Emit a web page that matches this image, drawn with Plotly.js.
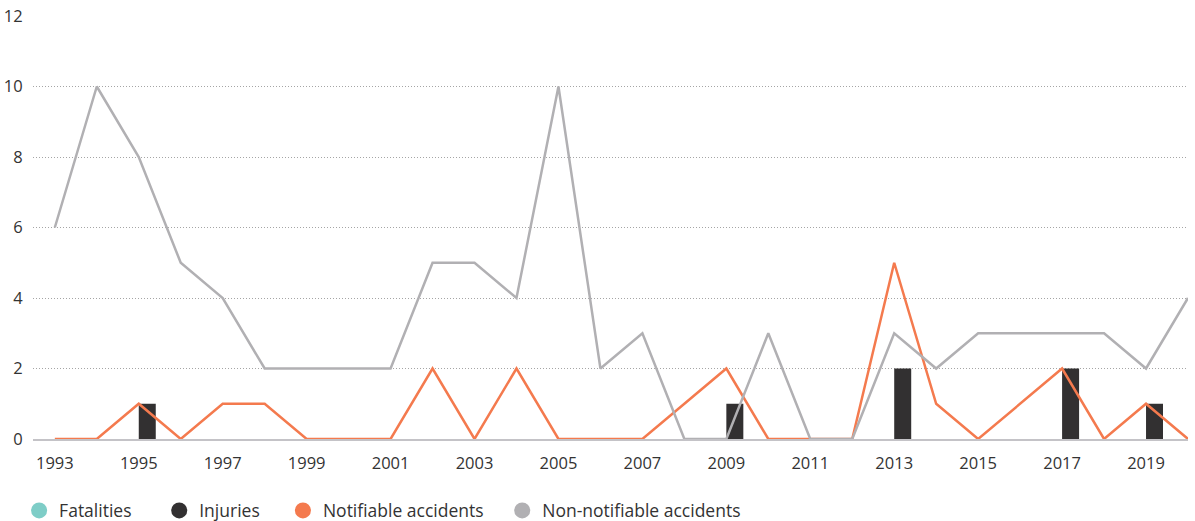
<!DOCTYPE html>
<html>
<head>
<meta charset="utf-8">
<script src="https://cdn.plot.ly/plotly-3.0.1.min.js"></script>
<style>
  html, body { margin: 0; padding: 0; background: #fff; }
  #chart { width: 1195px; height: 521px; }
</style>
</head>
<body>
<div id="chart"></div>
<script>
'use strict';

const years = [
  1993, 1994, 1995, 1996, 1997, 1998, 1999, 2000, 2001, 2002,
  2003, 2004, 2005, 2006, 2007, 2008, 2009, 2010, 2011, 2012,
  2013, 2014, 2015, 2016, 2017, 2018, 2019, 2020
];

const fatalities = [
  0, 0, 0, 0, 0, 0, 0, 0, 0, 0,
  0, 0, 0, 0, 0, 0, 0, 0, 0, 0,
  0, 0, 0, 0, 0, 0, 0, 0
];

const injuries = [
  0, 0, 1, 0, 0, 0, 0, 0, 0, 0,
  0, 0, 0, 0, 0, 0, 1, 0, 0, 0,
  2, 0, 0, 0, 2, 0, 1, 0
];

const notifiable = [
  0, 0, 1, 0, 1, 1, 0, 0, 0, 2,
  0, 2, 0, 0, 0, 1, 2, 0, 0, 0,
  5, 1, 0, 1, 2, 0, 1, 0
];

const nonNotifiable = [
  6, 10, 8, 5, 4, 2, 2, 2, 2, 5,
  5, 4, 10, 2, 3, 0, 0, 3, 0, 0,
  3, 2, 3, 3, 3, 3, 2, 4
];

const xTicks = [1993, 1995, 1997, 1999, 2001, 2003, 2005, 2007, 2009, 2011, 2013, 2015, 2017, 2019];
const yTicks = [0, 2, 4, 6, 8, 10, 12];

const colors = {
  fatalities: '#7ecdc7',
  injuries:   '#323031',
  notifiable: '#f47a4e',
  nonNotif:   '#b1b0b3'
};

// legend entries get circles; trailing nbsp widens the gap between items
const legendItem = (name, color, gap) => ({
  x: [null], y: [null],
  type: 'scatter', mode: 'markers', name: name + '\u00a0'.repeat(gap),
  marker: { color, size: 19, symbol: 'circle' },
  hoverinfo: 'skip'
});

const traces = [
  {
    x: years, y: fatalities, type: 'bar', name: 'Fatalities',
    marker: { color: colors.fatalities }, showlegend: false
  },
  {
    x: years, y: injuries, type: 'bar', name: 'Injuries',
    marker: { color: colors.injuries }, showlegend: false
  },
  {
    x: years, y: notifiable, type: 'scatter', mode: 'lines',
    name: 'Notifiable accidents', showlegend: false,
    line: { color: colors.notifiable, width: 2.5 }
  },
  {
    x: years, y: nonNotifiable, type: 'scatter', mode: 'lines',
    name: 'Non-notifiable accidents', showlegend: false,
    line: { color: colors.nonNotif, width: 2.5 }
  },
  legendItem('Fatalities', colors.fatalities, 5),
  legendItem('Injuries', colors.injuries, 4),
  legendItem('Notifiable accidents', colors.notifiable, 3),
  legendItem('Non-notifiable accidents', colors.nonNotif, 0)
];

const layout = {
  width: 1195,
  height: 521,
  paper_bgcolor: '#fff',
  plot_bgcolor:  '#fff',
  font: { family: '"Open Sans", sans-serif', size: 16, color: '#333' },
  margin: { t: 16, b: 82, l: 33, r: 7 },
  barmode: 'group',
  bargap: 0.19,
  showlegend: true,
  legend: {
    orientation: 'h',
    xref: 'container', x: 0.016, xanchor: 'left',
    yref: 'container', y: 0.02, yanchor: 'middle',
    font: { size: 17.5, color: '#333' }
  },
  xaxis: {
    range: [1992.48, 2020],
    tickvals: xTicks, ticktext: xTicks.map(String),
    showgrid: false, zeroline: false,
    showline: true, linecolor: '#c4c3c7', linewidth: 2,
    ticks: 'outside', ticklen: 8, tickcolor: 'rgba(0,0,0,0)',
    tickfont: { size: 16.5, color: '#333' }, fixedrange: true
  },
  yaxis: {
    range: [0, 12],
    tickvals: yTicks,
    showgrid: true, gridcolor: '#a5a5a5', griddash: '1px,2px', gridwidth: 1,
    zeroline: false, showline: false,
    ticks: 'outside', ticklen: 6, tickcolor: 'rgba(0,0,0,0)',
    tickfont: { size: 16.5, color: '#333' }, fixedrange: true
  }
};

Plotly.newPlot('chart', traces, layout, { displayModeBar: false, staticPlot: true });
</script>
</body>
</html>
